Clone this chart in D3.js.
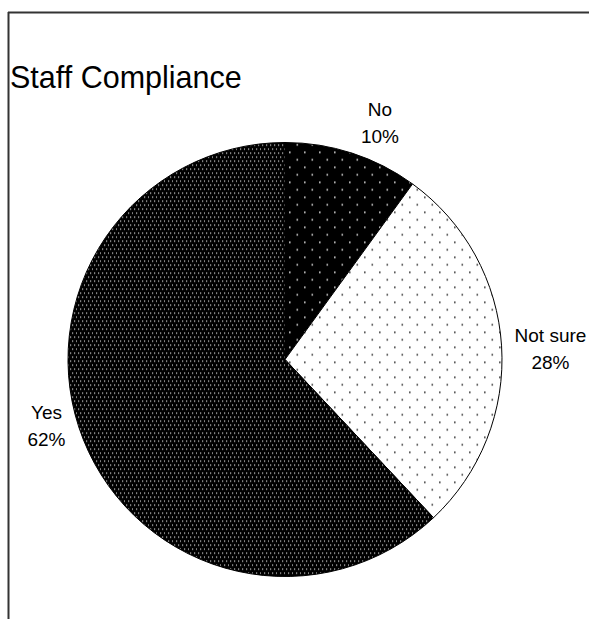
<!DOCTYPE html>
<html><head><meta charset="utf-8">
<script src="https://cdn.jsdelivr.net/npm/d3@7/dist/d3.min.js"></script>
<style>html,body{margin:0;padding:0;background:#fff;}svg{display:block;}</style>
</head><body>
<script>
const title = "Staff Compliance";
const categories = ["No", "Not sure", "Yes"];
const values = [10, 28, 62];
const percentLabels = ["10%", "28%", "62%"];

const W = 589, H = 619;
const svg = d3.select("body").append("svg").attr("width", W).attr("height", H);
const defs = svg.append("defs");

function dotPattern(id, bg, fg, tw, th, pts, size) {
  const p = defs.append("pattern").attr("id", id).attr("patternUnits", "userSpaceOnUse")
    .attr("width", tw).attr("height", th);
  p.append("rect").attr("width", tw).attr("height", th).attr("fill", bg);
  pts.forEach(([x, y]) => p.append("rect").attr("x", x).attr("y", y).attr("width", size).attr("height", size).attr("fill", fg));
}
dotPattern("pNo", "#000", "#d8d8d8", 15, 15, [[4, 2], [11.5, 9.5]], 1.6);
dotPattern("pNotSure", "#fff", "#333", 15, 15, [[4, 2], [11.5, 9.5]], 1.6);
dotPattern("pYes", "#000", "#d8d8d8", 8, 8, [[1, 1], [5, 1], [3, 5], [7, 5]], 1.2);
const fills = ["url(#pNo)", "url(#pNotSure)", "url(#pYes)"];

// frame
svg.append("line").attr("x1", 8).attr("y1", 12.5).attr("x2", W).attr("y2", 12.5).attr("stroke", "#333").attr("stroke-width", 2);
svg.append("line").attr("x1", 8.5).attr("y1", 12).attr("x2", 8.5).attr("y2", H).attr("stroke", "#333").attr("stroke-width", 2);

svg.append("text").attr("x", 10).attr("y", 88).attr("font-family", "Liberation Sans, Arial, sans-serif")
  .attr("font-size", 30.5).attr("fill", "#000").text(title);

const cx = 285, cy = 359.5, R = 217;
const g = svg.append("g").attr("transform", `translate(${cx},${cy})`);
const pie = d3.pie().sort(null).value(d => d)(values);
const arc = d3.arc().innerRadius(0).outerRadius(R);
g.selectAll("path.slice").data(pie).join("path").attr("class", "slice")
  .attr("d", arc).attr("fill", (d, i) => fills[i]).attr("stroke", "#000").attr("stroke-width", 1);

// labels outside the arc, box offset in the direction of the mid-angle
const labelArc = d3.arc().innerRadius(R + 14).outerRadius(R + 14);
const nudge = [[18, 2], [-3, 2], [-7, -30]];
pie.forEach((d, i) => {
  const a = (d.startAngle + d.endAngle) / 2;
  const [px, py] = labelArc.centroid(d);
  const bw = [36, 76, 36][i], bh = 46;
  const lx = px + Math.sin(a) * bw / 2 + nudge[i][0];
  const ly = py - Math.cos(a) * bh / 2 + nudge[i][1];
  const t = g.append("text").attr("text-anchor", "middle").attr("font-family", "Liberation Sans, Arial, sans-serif")
    .attr("font-size", 19).attr("fill", "#000");
  t.append("tspan").attr("x", lx).attr("y", ly - 4).text(categories[i]);
  t.append("tspan").attr("x", lx).attr("y", ly + 23).text(percentLabels[i]);
});
</script>
</body></html>
